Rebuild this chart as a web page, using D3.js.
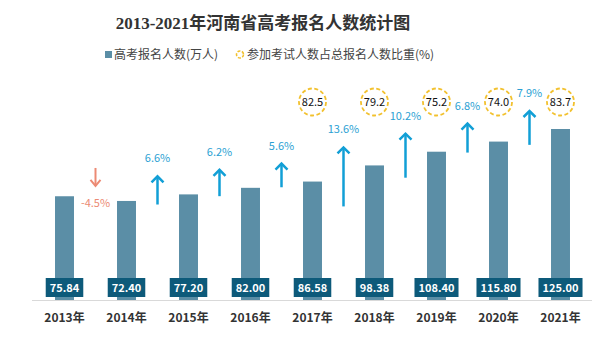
<!DOCTYPE html>
<html><head><meta charset="utf-8">
<script src="https://cdn.jsdelivr.net/npm/d3@7"></script>
<style>html,body{margin:0;padding:0;background:#fff;}svg{display:block;}</style>
</head><body>
<svg id="c" width="601" height="342"></svg>
<script>
const years = ["2013年","2014年","2015年","2016年","2017年","2018年","2019年","2020年","2021年"];
const applicants = [75.84, 72.40, 77.20, 82.00, 86.58, 98.38, 108.40, 115.80, 125.00];
const growth = [null, -4.5, 6.6, 6.2, 5.6, 13.6, 10.2, 6.8, 7.9];
const ratioYears = ["2017年","2018年","2019年","2020年","2021年"];
const ratios = [82.5, 79.2, 75.2, 74.0, 83.7];

const svg = d3.select("#c");
const sans = "'Noto Sans CJK SC','Noto Sans',sans-serif";

const x = d3.scaleBand().domain(years).range([33.5, 591.5]).paddingInner(0.694).paddingOuter(0.347);
const y = d3.scaleLinear().domain([0, 125]).range([300, 129]);
const bw = x.bandwidth();
const step = x.step();
const len = d3.scaleLinear().domain([0, 13.6]).range([0, 60]);

// title
svg.append("text").attr("x", 263).attr("y", 29).attr("text-anchor", "middle")
  .attr("font-family", "'Liberation Serif','DejaVu Serif','Noto Sans CJK SC',serif")
  .attr("font-weight", "bold").attr("font-size", 17).attr("fill", "#333")
  .text("2013-2021年河南省高考报名人数统计图");

// legend
const lg = svg.append("g").attr("font-family", sans).attr("font-size", 12).attr("fill", "#444");
lg.append("rect").attr("x", 105).attr("y", 51).attr("width", 7).attr("height", 7).attr("fill", "#5b8ea6");
lg.append("text").attr("x", 114).attr("y", 59).text("高考报名人数(万人)");
lg.append("circle").attr("cx", 240).attr("cy", 54.5).attr("r", 3.5).attr("fill", "none")
  .attr("stroke", "#f2c12e").attr("stroke-width", 1.6).attr("stroke-dasharray", "3,1.5");
lg.append("text").attr("x", 247).attr("y", 59).text("参加考试人数占总报名人数比重(%)");

// axis baseline
svg.append("line").attr("x1", 32).attr("x2", 592).attr("y1", y(0) + 0.5).attr("y2", y(0) + 0.5)
  .attr("stroke", "#d9d9d9").attr("stroke-width", 1);

// bars
svg.append("g").selectAll("rect").data(years).join("rect")
  .attr("x", d => x(d)).attr("width", bw)
  .attr("y", (d, i) => y(applicants[i])).attr("height", (d, i) => y(0) - y(applicants[i]))
  .attr("fill", "#5b8ea6");

// x labels
svg.append("g").selectAll("text").data(years).join("text")
  .attr("x", d => x(d) + bw / 2).attr("y", 322).attr("text-anchor", "middle")
  .attr("font-family", sans).attr("font-weight", "bold").attr("font-size", 12).attr("fill", "#333")
  .text(d => d);

// value labels
const vl = svg.append("g").selectAll("g").data(years).join("g")
  .attr("transform", d => `translate(${x(d) + bw / 2},287.5)`);
vl.each(function (d, i) {
  const g = d3.select(this);
  const t = g.append("text").attr("text-anchor", "middle").attr("y", 4)
    .attr("font-family", sans).attr("font-weight", "bold").attr("font-size", 11).attr("fill", "#fff")
    .text(applicants[i].toFixed(2));
  const w = t.node().getComputedTextLength() + 8;
  g.insert("rect", "text").attr("x", -w / 2).attr("y", -9.5).attr("width", w).attr("height", 19).attr("fill", "#0d5a7a");
});

// growth arrows
const ag = svg.append("g");
years.forEach((yr, i) => {
  const g = growth[i];
  if (g === null) return;
  const cx = x(yr) + bw / 2 - step / 2;
  if (g < 0) {
    const labelY = y(applicants[i]) + 2;
    const bot = labelY - 17, top = bot - 18;
    const col = "#ec8a74";
    ag.append("line").attr("x1", cx).attr("x2", cx).attr("y1", top).attr("y2", bot).attr("stroke", col).attr("stroke-width", 2);
    ag.append("path").attr("d", `M${cx - 5},${bot - 6}L${cx},${bot}L${cx + 5},${bot - 6}`)
      .attr("fill", "none").attr("stroke", col).attr("stroke-width", 2);
    ag.append("text").attr("x", cx).attr("y", labelY + 4).attr("text-anchor", "middle")
      .attr("font-family", sans).attr("font-size", 11).attr("fill", col).text(g.toFixed(1) + "%");
  } else {
    const top = y(applicants[i]) - 19;
    const bot = top + len(g);
    const col = "#129fd6";
    ag.append("line").attr("x1", cx).attr("x2", cx).attr("y1", top + 1).attr("y2", bot).attr("stroke", col).attr("stroke-width", 2.5);
    ag.append("path").attr("d", `M${cx - 6},${top + 7}L${cx},${top + 1}L${cx + 6},${top + 7}`)
      .attr("fill", "none").attr("stroke", col).attr("stroke-width", 2.5);
    ag.append("text").attr("x", cx).attr("y", top - 13).attr("text-anchor", "middle")
      .attr("font-family", sans).attr("font-size", 11).attr("fill", "#2b9fd3").text(g.toFixed(1) + "%");
  }
});

// ratio circles
const rc = svg.append("g").selectAll("g").data(ratioYears).join("g")
  .attr("transform", d => `translate(${x(d) + bw / 2},102)`);
rc.append("circle").attr("r", 13.5).attr("fill", "#fff").attr("stroke", "#f2c12e")
  .attr("stroke-width", 1.8).attr("stroke-dasharray", "4,2.5");
rc.append("text").attr("text-anchor", "middle").attr("y", 4)
  .attr("font-family", sans).attr("font-size", 11).attr("fill", "#111")
  .text((d, i) => ratios[i].toFixed(1));
</script>
</body></html>
